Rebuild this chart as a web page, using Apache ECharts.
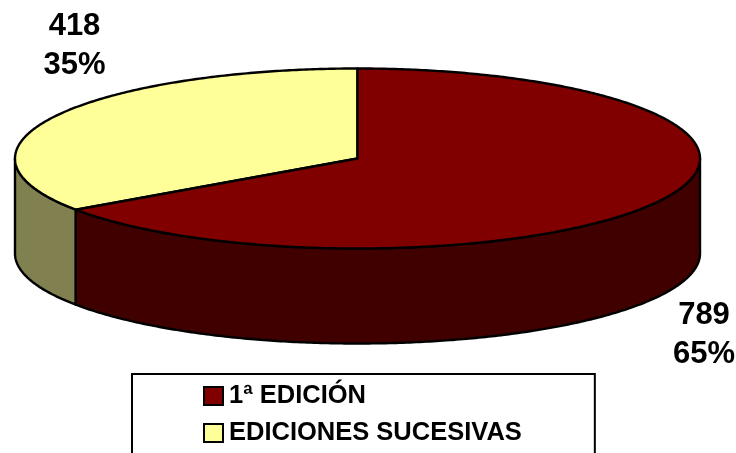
<!DOCTYPE html>
<html><head><meta charset="utf-8">
<style>html,body{margin:0;padding:0;background:#fff}#c{width:736px;height:453px}</style>
<script src="https://cdn.jsdelivr.net/npm/echarts@6/dist/echarts.min.js"></script>
</head><body><div id="c"></div>
<script>
const categories = ['1ª EDICIÓN', 'EDICIONES SUCESIVAS'];
const values = [789, 418];
const percents = [65, 35];
const topColors = ['#800000', '#FFFF99'];
const wallColors = ['#400000', '#808050'];

const total = values.reduce((a, b) => a + b, 0);
const pie = {cx: 357.5, cy: 158.5, rx: 342.5, ry: 90, depth: 95};
const labelAnchors = [{x: 704, y: 335}, {x: 74.5, y: 46}];
const FONT = '"Liberation Sans", Arial, sans-serif';

const pt = (a, dy) => [pie.cx + pie.rx * Math.sin(a), pie.cy - pie.ry * Math.cos(a) + (dy || 0)];
function arc(a0, a1, dy) {
  const n = Math.max(2, Math.ceil(Math.abs(a1 - a0) / 0.01));
  const out = [];
  for (let i = 0; i <= n; i++) out.push(pt(a0 + (a1 - a0) * i / n, dy));
  return out;
}
function renderSlice(params, api) {
  const idx = params.seriesIndex;
  let before = 0;
  for (let i = 0; i < idx; i++) before += values[i];
  const a0 = before / total * 2 * Math.PI;
  const a1 = (before + api.value(0)) / total * 2 * Math.PI;
  const children = [];
  const lo = Math.max(a0, Math.PI / 2), hi = Math.min(a1, 3 * Math.PI / 2);
  const line = {stroke: '#000', lineWidth: 2.4, lineJoin: 'round'};
  if (hi > lo) {
    children.push({
      type: 'polygon',
      shape: {points: arc(lo, hi, 0).concat(arc(hi, lo, pie.depth))},
      style: Object.assign({fill: wallColors[idx]}, line)
    });
  }
  children.push({
    type: 'polygon',
    shape: {points: [[pie.cx, pie.cy]].concat(arc(a0, a1, 0))},
    style: Object.assign({fill: topColors[idx]}, line)
  });
  children.push({
    type: 'text',
    style: {
      x: labelAnchors[idx].x, y: labelAnchors[idx].y,
      text: api.value(0) + '\n' + percents[idx] + '%',
      font: 'bold 31px ' + FONT, lineHeight: 39,
      fill: '#000', align: 'center', verticalAlign: 'middle'
    }
  });
  return {type: 'group', children};
}
const chart = echarts.init(document.getElementById('c'), null, {renderer: 'canvas'});
chart.setOption({
  animation: false,
  backgroundColor: '#fff',
  legend: {
    orient: 'vertical', left: 132, top: 374, height: 100,
    padding: [9, 73, 20, 71],
    itemGap: 11, itemWidth: 19, itemHeight: 18,
    borderColor: '#000', borderWidth: 2, backgroundColor: '#fff',
    selectedMode: false,
    data: categories.map((name, i) => ({
      name, icon: 'rect',
      itemStyle: {color: topColors[i], borderColor: '#000', borderWidth: 2}
    })),
    textStyle: {fontFamily: FONT, fontWeight: 'bold', fontSize: 25.5, color: '#000', padding: [0, 0, 0, 1]}
  },
  series: categories.map((name, i) => ({
    type: 'custom', name, coordinateSystem: 'none',
    itemStyle: {color: topColors[i]},
    renderItem: renderSlice, data: [[values[i]]], silent: true, z: 2 + (i === 0 ? 1 : 0)
  }))
});
</script></body></html>
